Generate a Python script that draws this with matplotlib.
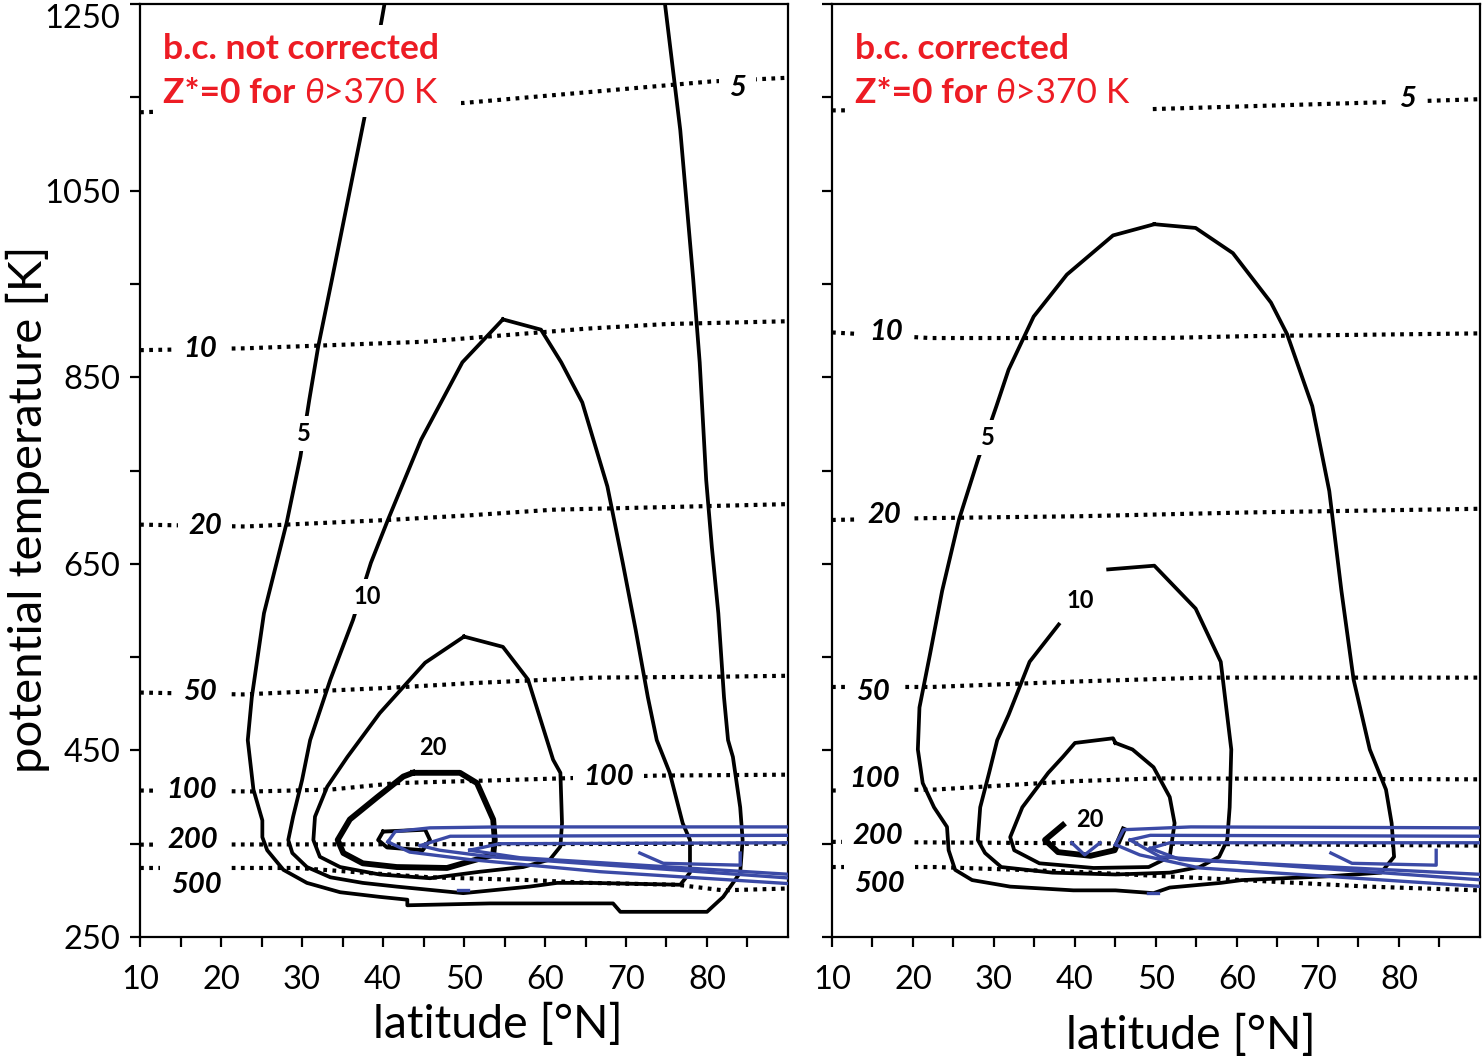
import numpy as np
import matplotlib.pyplot as plt
from matplotlib.patches import Rectangle
from matplotlib.transforms import Bbox

plt.rcParams['font.family'] = ['Lato', 'DejaVu Sans']

# ---------------- data: (latitude [°N], potential temperature [K]) ----------------
# left panel : b.c. not corrected
left_c5 = [(40.2, 1251), (37.7, 1128), (33.7, 955), (32.0, 883), (30.9, 826), (29.8, 765),
           (28.1, 694), (25.3, 597), (23.8, 507), (23.3, 461), (24.0, 408), (25.1, 375),
           (25.1, 357), (25.7, 343), (27.7, 322), (30.6, 308), (34.7, 298), (39.6, 293),
           (43.0, 290), (43.0, 284), (53.2, 286), (68.4, 286), (69.3, 277), (80.0, 277),
           (82.0, 293), (84.1, 319), (84.4, 354), (84.1, 389), (83.2, 443), (82.6, 461),
           (82.1, 507), (81.4, 597), (80.6, 668), (79.9, 740), (79.1, 866), (78.3, 955),
           (76.7, 1115), (74.8, 1251)]
left_c10 = [(54.8, 912), (59.5, 901), (62.0, 866), (64.6, 823), (67.7, 733), (69.6, 651),
            (71.2, 579), (72.7, 507), (73.8, 461), (75.4, 426), (77.0, 372), (77.9, 354),
            (77.9, 319), (76.7, 306), (65.6, 308), (61.5, 308), (58.1, 304), (49.9, 297),
            (41.7, 304), (37.5, 308), (33.5, 314), (30.6, 325), (28.8, 340), (28.3, 354),
            (28.9, 379), (30.0, 418), (31.0, 461), (33.5, 526), (36.3, 590), (38.5, 651),
            (40.6, 697), (44.7, 783), (49.8, 866), (54.8, 912)]
left_c20 = [(50.0, 572), (54.8, 561), (57.9, 526), (61.0, 440), (61.9, 426), (62.1, 372),
            (61.9, 347), (60.6, 333), (57.3, 325), (52.0, 320), (45.8, 313), (39.6, 317),
            (34.7, 325), (32.2, 336), (31.4, 354), (31.6, 379), (33.1, 411), (35.6, 443),
            (39.6, 490), (45.2, 544), (50.0, 572)]
left_c50 = [(43.7, 426), (49.5, 426), (51.6, 415), (53.6, 376), (53.8, 354), (53.6, 338),
            (49.9, 329), (47.9, 324), (41.7, 325), (37.5, 329), (35.1, 340), (34.4, 354),
            (35.9, 376), (39.3, 400), (42.5, 422), (43.7, 426)]
left_c100 = [(40.0, 363), (45.2, 365), (45.8, 354), (44.9, 343), (40.5, 346), (39.4, 354),
             (40.0, 363)]

left_iso5 = [(10, 1134), (50, 1144), (80.5, 1167), (90, 1171)]
left_iso10 = [(10, 879), (23, 881), (45, 888), (55, 895), (65, 902), (75, 907), (90, 910)]
left_iso20 = [(10, 692), (23, 690), (40.6, 697), (50.7, 702), (61, 708), (76, 711), (90, 714)]
left_iso50 = [(10, 512), (22.7, 510), (40.6, 517), (50.7, 522), (66, 528), (81.4, 529), (90, 530)]
left_iso100 = [(10, 407), (24, 406), (33.5, 408), (41.7, 415), (54.1, 418), (73.8, 423), (90, 424)]
left_iso200 = [(10, 349), (90, 350)]
left_iso500 = [(10, 324), (29.4, 324), (37.5, 319), (45.8, 314), (58.1, 311), (65.6, 308),
               (76.3, 306), (82.0, 300), (90, 302)]

left_blue1 = [(40.6, 352), (41.5, 363), (45.8, 367), (54.4, 368), (90.5, 368), (90.5, 307),
              (66.8, 320), (50.7, 333), (43.3, 341), (40.6, 352)]
left_blue2 = [(44.6, 348), (48.3, 358), (90.5, 359), (90.5, 313), (53.2, 336), (47.0, 343),
              (44.6, 348)]
left_blue3 = [(50.7, 343), (54.4, 350), (90.5, 351), (90.5, 317), (56.9, 335), (50.7, 343)]
left_blue4 = [(71.7, 340), (74.6, 329), (84.1, 327), (84.1, 340)]
left_blue5 = [(49.3, 300), (50.5, 300)]

# right panel : b.c. corrected
right_c5 = [(49.8, 1014), (54.9, 1010), (59.5, 983), (64.2, 930), (66.2, 896), (69.3, 819),
            (71.4, 728), (72.9, 621), (74.4, 526), (76.4, 451), (78.4, 408), (79.1, 372),
            (79.4, 336), (77.8, 319), (71.1, 315), (60.6, 311), (58.0, 308), (51.7, 303),
            (49.7, 297), (45.0, 300), (39.8, 300), (32.0, 304), (27.3, 311), (25.2, 322),
            (24.4, 343), (24.2, 368), (22.6, 389), (21.2, 415), (20.6, 451), (20.8, 496),
            (22.1, 553), (23.6, 621), (25.7, 698), (28.0, 761), (30.3, 819), (31.8, 858),
            (34.9, 915), (39.0, 960), (44.7, 1002), (49.8, 1014)]
right_c10 = [(44.1, 644), (49.8, 648), (54.9, 602), (58.0, 545), (59.3, 451), (59.1, 389),
             (58.8, 354), (57.8, 336), (55.4, 325), (51.7, 319), (45.0, 317), (37.2, 319),
             (30.9, 325), (28.9, 340), (28.0, 354), (28.3, 389), (29.4, 426), (30.4, 461),
             (31.8, 488), (34.4, 545), (38.0, 585)]
right_c20 = [(45.0, 458), (47.1, 451), (49.7, 432), (51.7, 400), (52.3, 372), (51.7, 336),
             (49.1, 325), (42.3, 324), (35.6, 329), (32.5, 343), (32.0, 357), (33.5, 389),
             (36.7, 426), (38.5, 443), (40.0, 458), (44.7, 463), (45.0, 458)]
right_c50 = [(38.5, 370), (36.3, 354), (37.9, 341), (41.9, 337), (44.9, 343), (46.0, 365)]

right_iso5 = [(10, 1136), (48, 1137), (79, 1145), (90, 1148)]
right_iso10 = [(10, 898), (22.1, 892), (50.8, 892), (61.1, 894), (90, 897)]
right_iso20 = [(10, 697), (22, 699), (40.6, 701), (61, 705), (90, 709)]
right_iso50 = [(10, 518), (22.3, 518), (40.6, 524), (56, 528), (90, 528)]
right_iso100 = [(10, 407), (22.6, 408), (39.8, 417), (50.3, 420), (90, 419)]
right_iso200 = [(10, 352), (90, 348)]
right_iso500 = [(10, 325), (22.8, 325), (39.8, 320), (60.6, 311), (76.3, 304), (90, 300)]

right_blue1 = [(45.0, 349), (46.0, 365), (54.3, 368), (90.5, 367), (90.5, 304), (55.4, 324),
               (48.0, 338), (45.0, 349)]
right_blue2 = [(46.8, 354), (49.3, 359), (90.5, 358), (90.5, 311), (50.5, 336), (46.8, 354)]
right_blue3 = [(49.3, 345), (51.7, 351), (90.5, 351), (90.5, 317), (53.0, 333), (49.3, 345)]
right_blue4 = [(71.6, 340), (74.2, 329), (84.6, 327), (84.6, 343)]
right_blue5 = [(39.6, 351), (41.2, 338), (43.1, 351)]
right_blue6 = [(49.0, 297), (50.2, 297)]

iso_names = ['5', '10', '20', '50', '100', '200', '500']
contour_names = ['5', '10', '20']

# label anchor points (lat, theta)
left_iso_label_at = [(83.8, 1160), (17.4, 880), (18.0, 690), (17.4, 513), (16.4, 408),
                     (16.5, 354), (16.9, 306)]
left_extra_label_at = (67.8, 422)   # second "100"
right_iso_label_at = [(81.1, 1148), (16.7, 898), (16.4, 702), (15.1, 513), (15.3, 419),
                      (15.6, 358), (15.9, 307)]
left_contour_label_at = [(30.2, 790), (38.0, 615), (46.2, 453)]
right_contour_label_at = [(29.3, 785), (40.6, 611), (41.9, 376)]

RED = '#ed1c24'
BLUE = '#3b4aa6'


def xy(pts):
    lat, th = zip(*pts)
    return lat, th


def draw_panel(ax, contours, bold, inner, isolines, blues, iso_pos, cont_pos, title):
    for c in contours:
        ax.plot(*xy(c), color='k', lw=2.7, zorder=3)
    ax.plot(*xy(bold), color='k', lw=4.2, zorder=3)
    if inner is not None:
        ax.plot(*xy(inner), color='k', lw=2.8, zorder=3)
    for iso in isolines:
        ax.plot(*xy(iso), color='k', lw=3.0, linestyle=(0, (0.9, 1.3)), zorder=2)
    for b in blues:
        ax.plot(*xy(b), color=BLUE, lw=2.4, zorder=3.5)

    box = dict(boxstyle='square,pad=0.35', fc='white', ec='none')
    for name, (la, th) in zip(iso_names, iso_pos):
        ax.text(la, th, name, fontsize=21, fontweight='bold', style='italic',
                ha='center', va='center', bbox=box, zorder=4)
    for name, (la, th) in zip(contour_names, cont_pos):
        ax.text(la, th, name, fontsize=17, fontweight='bold',
                ha='center', va='center', bbox=dict(boxstyle='square,pad=0.25', fc='white', ec='none'),
                zorder=4)

    # red annotation
    t1 = ax.text(0.035, 0.969, title, transform=ax.transAxes, color=RED, fontsize=25.5,
                 fontweight='bold', ha='left', va='top', zorder=6)
    t2 = ax.annotate('Z*=0 for ', xy=(0, 0), xycoords=t1, xytext=(0, -9),
                     textcoords='offset points', color=RED, fontsize=25.5, fontweight='bold',
                     ha='left', va='top', zorder=6)
    t3 = ax.annotate('θ', xy=(1, 0), xycoords=t2, color=RED, fontsize=25.5, style='italic',
                     ha='left', va='bottom', zorder=6)
    t4 = ax.annotate('>370 K', xy=(1, 0), xycoords=t3, color=RED, fontsize=25.5,
                     ha='left', va='bottom', zorder=6)
    return [t1, t2, t3, t4]


fig = plt.figure(figsize=(14.82, 10.62), dpi=100)
ax1 = fig.add_axes([0.0945, 0.1177, 0.4372, 0.8785])
ax2 = fig.add_axes([0.5614, 0.1177, 0.4372, 0.8785])

txt1 = draw_panel(ax1, [left_c5, left_c10, left_c20], left_c50, left_c100,
                  [left_iso5, left_iso10, left_iso20, left_iso50, left_iso100, left_iso200, left_iso500],
                  [left_blue1, left_blue2, left_blue3, left_blue4, left_blue5],
                  left_iso_label_at, left_contour_label_at, 'b.c. not corrected')
ax1.text(*left_extra_label_at, '100', fontsize=21, fontweight='bold', style='italic',
         ha='center', va='center', bbox=dict(boxstyle='square,pad=0.35', fc='white', ec='none'),
         zorder=4)

txt2 = draw_panel(ax2, [right_c5, right_c10, right_c20], right_c50, None,
                  [right_iso5, right_iso10, right_iso20, right_iso50, right_iso100, right_iso200, right_iso500],
                  [right_blue1, right_blue2, right_blue3, right_blue4, right_blue5, right_blue6],
                  right_iso_label_at, right_contour_label_at, 'b.c. corrected')

for ax in (ax1, ax2):
    ax.set_xlim(10, 90)
    ax.set_ylim(250, 1250)
    xt = np.arange(10, 90, 5)
    ax.set_xticks(xt)
    ax.set_xticklabels([str(v) if v % 10 == 0 else '' for v in xt])
    yt = np.arange(250, 1251, 100)
    ax.set_yticks(yt)
    ax.tick_params(direction='out', length=7, width=1.6, labelsize=23.5)
    ax.tick_params(axis='x', pad=13)
    ax.tick_params(axis='y', pad=7)
    for s in ax.spines.values():
        s.set_linewidth(1.6)
    ax.set_xlabel('latitude [°N]', fontsize=33.5)

ax1.set_yticklabels([str(v) if (v - 250) % 200 == 0 else '' for v in yt])
ax1.get_yticklabels()[-1].set_va('top')
ax2.set_yticklabels([])

ax1.set_ylabel('potential temperature [K]', fontsize=34)
ax1.yaxis.set_label_coords(-0.173, 0.458)
ax1.yaxis.label.set_va('center')
ax1.xaxis.set_label_coords(0.552, -0.094)
ax1.xaxis.label.set_va('center')
ax2.xaxis.set_label_coords(0.554, -0.105)
ax2.xaxis.label.set_va('center')

# white mask behind the red annotation
fig.canvas.draw()
renderer = fig.canvas.get_renderer()
for ax, texts in ((ax1, txt1), (ax2, txt2)):
    bb = Bbox.union([t.get_window_extent(renderer) for t in texts])
    bb = Bbox.from_extents(bb.x0 - 10, bb.y0 - 8, bb.x1 + 22, bb.y1 + 8)
    bb = bb.transformed(ax.transAxes.inverted())
    ax.add_patch(Rectangle((bb.x0, bb.y0), bb.width, bb.height, transform=ax.transAxes,
                           facecolor='white', edgecolor='none', zorder=5))

fig.savefig('out.png', dpi=100)
